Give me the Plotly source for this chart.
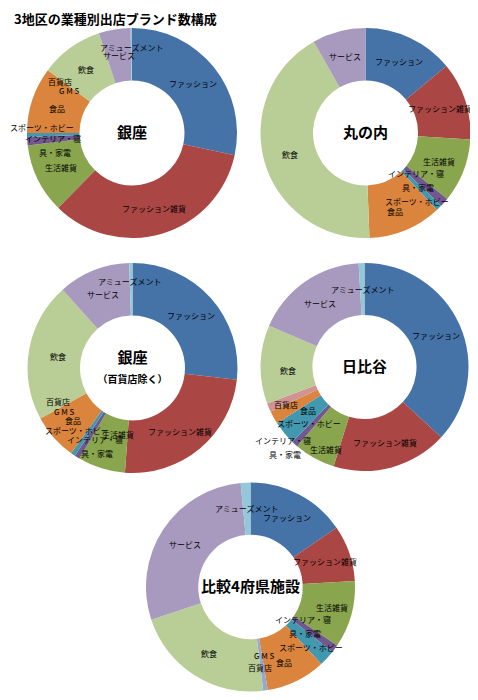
import math
import plotly.graph_objects as go

W, H = 478, 700

categories = ["ファッション", "ファッション雑貨", "生活雑貨", "インテリア・寝具・家電",
              "スポーツ・ホビー", "食品", "GMS", "百貨店", "飲食", "サービス", "アミューズメント"]
slice_text = ["ファッション", "ファッション雑貨", "生活雑貨", "インテリア・寝<br>具・家電",
              "スポーツ・ホビー", "食品", "G M S", "百貨店", "飲食", "サービス", "アミューズメント"]
colors = ["#4572A7", "#AA4643", "#89A54E", "#71588F", "#4198AF", "#DB843D",
          "#93A9CF", "#D19392", "#B9CD96", "#A79ABE", "#93C8DA"]

# share (%) by district, None = category not listed
ginza = [28.4, 34.0, 10.7, 1.3, 0.6, 10.2, 0, 0, 9.7, 4.9, 0.2]
marunouchi = [14.0, 12.0, 9.8, 1.4, 0.9, 11.3, None, None, 42.4, 8.2, None]
ginza_ex = [26.8, 24.4, 7.3, 0.8, 0.7, 7.1, 0, 0, 21.4, 11.1, 0.5]
hibiya = [36.8, 18.0, 6.4, 1.0, 3.7, 2.0, None, 1.4, 12.2, 17.6, 0.9]
hikaku = [15.4, 8.7, 10.4, 1.2, 2.5, 9.2, 0.7, 0, 21.9, 28.6, 1.5]

# label nudges in pixels (dx, dy down) where labels crowd, like the original
nudges = {
    "ginza": {"インテリア・寝具・家電": (0, -1), "スポーツ・ホビー": (-11, -7),
              "GMS": (1, 5), "百貨店": (-9, -4), "アミューズメント": (0, -7)},
    "marunouchi": {"インテリア・寝具・家電": (-9, -12), "スポーツ・ホビー": (-4, 12),
                   "食品": (-1, 6)},
    "ginza_ex": {"ファッション雑貨": (-3, 3), "生活雑貨": (9, -9), "インテリア・寝具・家電": (4, 5),
                 "スポーツ・ホビー": (-11, -2), "GMS": (1, 6), "百貨店": (-5, -4),
                 "アミューズメント": (-2, -8), "飲食": (3, 2)},
    "hibiya": {"生活雑貨": (-1, 14), "インテリア・寝具・家電": (-29, 16), "スポーツ・ホビー": (5, 7),
               "食品": (12, 5), "百貨店": (-7, 7), "飲食": (1, 5)},
    "hikaku": {"生活雑貨": (6, 0), "インテリア・寝具・家電": (-11, -14), "スポーツ・ホビー": (3, 7),
               "食品": (-1, 5), "GMS": (3, -9), "百貨店": (0, 3)},
}

charts = [
    ("ginza", "<b>銀座</b>", ginza, (124, 125, 105)),
    ("marunouchi", "<b>丸の内</b>", marunouchi, (357.5, 125, 105)),
    ("ginza_ex", "<b>銀座</b><br><b><span style='font-size:10px'>（百貨店除く）</span></b>",
     ginza_ex, (124.5, 360, 105)),
    ("hibiya", "<b>日比谷</b>", hibiya, (356.5, 359, 104)),
    ("hikaku", "<b>比較4府県施設</b>", hikaku, (242.5, 579, 104.5)),
]

label_font = dict(size=8, color="black", family="Noto Sans CJK JP")

fig = go.Figure()
for key, name, vals, (cx, cy, r) in charts:
    idx = [i for i, v in enumerate(vals) if v is not None]
    fig.add_trace(go.Pie(
        labels=[categories[i] for i in idx],
        values=[vals[i] for i in idx],
        marker=dict(colors=[colors[i] for i in idx], line=dict(width=0)),
        textinfo="none",
        hole=0.5,
        sort=False,
        direction="clockwise",
        showlegend=False,
        title=dict(text=name, position="middle center",
                   font=dict(size=15, color="black", family="Noto Sans CJK JP")),
        domain=dict(x=[(cx - r) / W, (cx + r) / W], y=[1 - (cy + r) / H, 1 - (cy - r) / H]),
    ))

    # slice labels at the middle of the ring, on each slice's mid angle
    total = sum(vals[i] for i in idx)
    cum = 0
    for i in idx:
        mid = (cum + vals[i] / 2) / total * 2 * math.pi
        cum += vals[i]
        dx, dy = nudges[key].get(categories[i], (0, 0))
        px = cx + 0.75 * r * math.sin(mid) + dx
        py = cy - 0.75 * r * math.cos(mid) + dy
        for k, line in enumerate(slice_text[i].split("<br>")):
            fig.add_annotation(text=line, xref="paper", yref="paper",
                               x=(px + 2 * k) / W, y=1 - (py + 14 * k) / H,
                               xanchor="center", yanchor="middle", showarrow=False,
                               font=label_font)

fig.add_annotation(text="<b>3地区の業種別出店ブランド数構成</b>", xref="paper", yref="paper",
                   x=4 / W, y=1 - 11 / H, xanchor="left", yanchor="middle", showarrow=False,
                   font=dict(size=13, color="black", family="Noto Sans CJK JP"))

fig.update_layout(width=W, height=H, margin=dict(l=0, r=0, t=0, b=0),
                  paper_bgcolor="white", plot_bgcolor="white")

fig.write_html("out.html")
